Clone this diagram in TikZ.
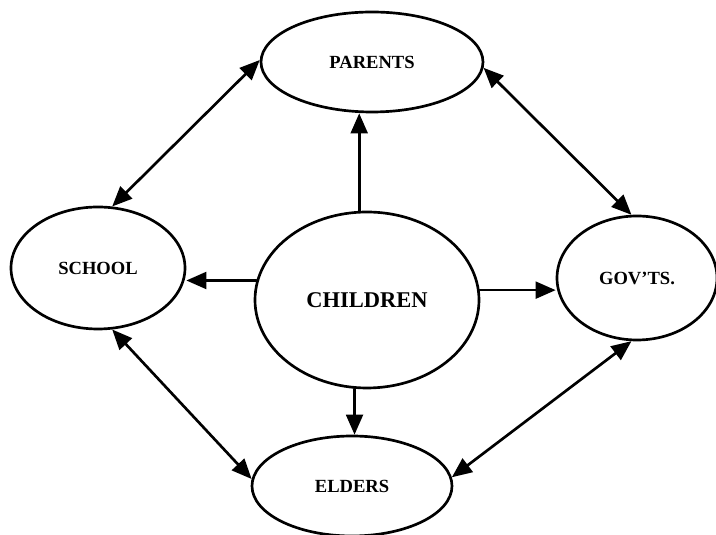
\documentclass[tikz,border=0pt]{standalone}
\usepackage{fontspec}
\setmainfont{Liberation Serif}
\usetikzlibrary{arrows.meta,shapes.geometric}
\begin{document}
\begin{tikzpicture}[line join=round, line cap=round, >={Triangle[length=0.5cm,width=0.42cm]}, line width=1.9pt,
	font=\fontsize{13.2}{15}\selectfont\bfseries,
	bubble/.style={draw, ellipse, inner sep=0pt}]
	\useasboundingbox (0,0) rectangle (17.9,13.375);
	% the five ellipses
	\node[bubble, minimum width=5.55cm, minimum height=2.5cm] (parents) at (9.3,11.825) {PARENTS};
	\node[bubble, minimum width=4.35cm, minimum height=3.05cm] (school) at (2.45,6.675) {SCHOOL};
	\node[bubble, minimum width=5.6cm, minimum height=4.4cm, font=\fontsize{16}{19}\selectfont\bfseries] (children) at (9.175,5.875) {CHILDREN};
	\node[bubble, minimum width=4cm, minimum height=3.1cm] (govts) at (15.925,6.425) {GOV'TS.};
	\node[bubble, minimum width=5cm, minimum height=2.5cm] (elders) at (8.8,1.225) {ELDERS};
	% from the centre outwards
	\draw[->] (children.95) -- (children.95 |- parents.south);
	\draw[->] (children.170) -- (children.170 -| school.east);
	\draw[->] (children.5) -- (children.5 -| govts.west);
	\draw[->] (children.262) -- (children.262 |- elders.north);
	% round the outside
	\draw[<->] (school.77) -- (parents.179);
	\draw[<->] (parents.357) -- (govts.95);
	\draw[<->] (school.283) -- (elders.176);
	\draw[<->] (elders.5) -- (govts.265);
\end{tikzpicture}
\end{document}
